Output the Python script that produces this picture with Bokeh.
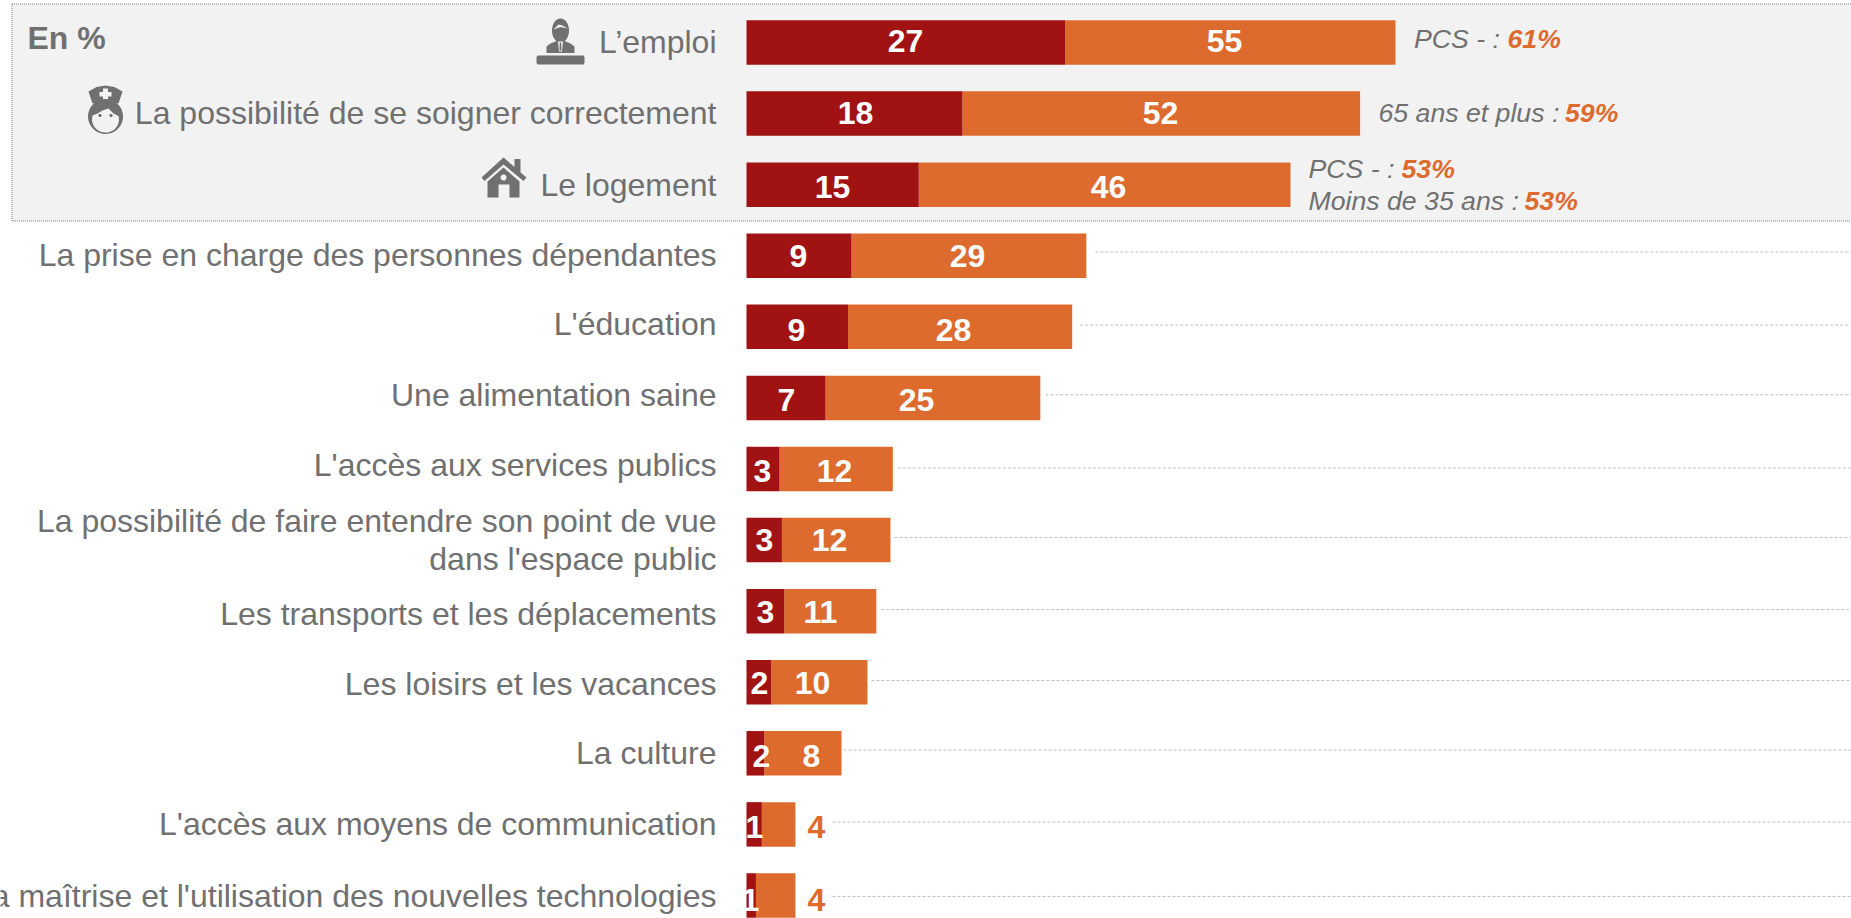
import numpy as np
from bokeh.plotting import figure
from bokeh.models import Range1d
from bokeh.core.properties import value
from bokeh.embed import file_html
from bokeh.resources import INLINE

categories = ["L’emploi", "La possibilité de se soigner correctement", "Le logement",
              "La prise en charge des personnes dépendantes", "L'éducation", "Une alimentation saine",
              "L'accès aux services publics", "La possibilité de faire entendre son point de vue\ndans l'espace public",
              "Les transports et les déplacements", "Les loisirs et les vacances", "La culture",
              "L'accès aux moyens de communication", "La maîtrise et l'utilisation des nouvelles technologies"]
first_priority = [27, 18.3, 14.6, 8.9, 8.6, 6.7, 2.8, 3.0, 3.2, 2.1, 1.5, 1.3, 0.8]
total = [55, 52, 46.1, 28.8, 27.6, 24.9, 12.4, 12.2, 11.0, 10.25, 8.05, 4.15, 4.15]
first_labels = [27, 18, 15, 9, 9, 7, 3, 3, 3, 2, 2, 1, 1]
total_labels = [55, 52, 46, 29, 28, 25, 12, 12, 11, 10, 8, 4, 4]
notes = [(0, "PCS - : ", "61%"), (1, "65 ans et plus : ", "59%"), (2, "PCS - : ", "53%"), (2, "Moins de 35 ans : ", "53%")]

GREY, RED, ORANGE = "#707070", "#A11212", "#DD6B2E"
W, H = 1851, 918
X0, SX, Y0, SY = 746, 11.8, 42, 71.08
X = lambda px: (np.asarray(px, float) - X0) / SX
Y = lambda py: (np.asarray(py, float) - Y0) / SY

p = figure(width=W, height=H, output_backend="svg", toolbar_location=None,
           x_range=Range1d(X(0), X(W)), y_range=Range1d(Y(H), Y(0)),
           min_border=0, min_border_left=0, min_border_right=0, min_border_top=0, min_border_bottom=0)
p.styles = {"position": "absolute", "left": "0px", "top": "0px"}
p.axis.visible = False
p.grid.visible = False
p.outline_line_color = None
p.background_fill_color = "white"
p.border_fill_color = "white"

def txt(xpx, ypx, s, color=GREY, size=32, style="normal", align="right"):
    p.text(x=[float(X(xpx))], y=[float(Y(ypx))], text=[s], text_font=value("Liberation Sans"),
           text_font_size=f"{size}px", text_font_style=style, text_color=color,
           text_align=align, text_baseline="middle")

# highlighted panel
p.quad(left=[float(X(11.5))], right=[float(X(W + 5))], top=[float(Y(3.5))], bottom=[float(Y(220.5))],
       fill_color="#F2F2F2", line_color="#7F7F7F", line_dash="1 1", line_width=1)

# leaders
leader_dy = [-3.8, -1.7, -3.1, -1, -2.6, -1.6, -1.7, -3.2, -2.3, 1]
leader_gap = [9, 8, 5, 5, 4, 5, 4, 2, 37, 37]
for k, (dy, gap) in enumerate(zip(leader_dy, leader_gap)):
    i = k + 3
    yy = i + dy / SY
    p.line([total[i] + gap / SX, X(W)], [yy, yy], line_color="#BFBFBF", line_dash="3 2", line_width=1)

# bars
ys = list(range(len(categories)))
p.hbar(y=ys, left=first_priority, right=total, height=0.626, fill_color=ORANGE, line_color=None)
p.hbar(y=ys, left=0, right=first_priority, height=0.626, fill_color=RED, line_color=None)

# labels
label_dy = [-1, -1, 0, -1, -3, -3, -3.5, 0, 3, 2, 0, 0, 1]
for i, c in enumerate(categories):
    yc = Y0 + SY * i + label_dy[i]
    if "\n" in c:
        a, b = c.split("\n")
        txt(716, 520.6, a)
        txt(716, 558, b)
    else:
        txt(716, yc, c)

red_x = [905, 855, 832, 798, 796, 786, 762, 764, 765, 759, 761, 754, 750]
tot_x = [1224, 1160, 1108, 967, 953, 916, 834, 829, 820, 812, 811, 816, 816]
val_y = [40, 112, 186.5, 255, 329, 399, 470, 539.5, 611.5, 682, 755.5, 826, 899.5]
for i in range(len(categories)):
    txt(red_x[i], val_y[i], str(first_labels[i]), "white", 32, "bold", "center")
    txt(tot_x[i], val_y[i], str(total_labels[i]), "white" if i < 11 else ORANGE, 32, "bold", "center")

txt(27, 37, "En %", GREY, 32, "bold", "left")

note_pos = [(1413.5, 1507, 38), (1378, 1564.5, 112), (1308, 1401, 168), (1308, 1524, 200)]
for (row, lab, pct), (x1, x2, yy) in zip(notes, note_pos):
    txt(x1, yy, lab, GREY, 26.67, "italic", "left")
    txt(x2, yy, pct, ORANGE, 26.67, "bold italic", "left")

# icons
def poly(pts, color=GREY):
    a = np.array(pts, float)
    p.patch(X(a[:, 0]), Y(a[:, 1]), fill_color=color, line_color=None)

def ell(cx, cy, rx, ry, color=GREY):
    t = np.linspace(0, 2 * np.pi, 40)
    poly(np.c_[cx + rx * np.cos(t), cy + ry * np.sin(t)], color)

# person at desk
BG = "#F2F2F2"
ell(560, 30, 8.5, 12)
poly([(546, 52.5), (546, 46), (550, 43), (556, 40.5), (564, 40.5), (570, 43), (574, 46), (574, 52.5)])
poly([(557.5, 41), (562.5, 41), (561.5, 51), (558.5, 51)], BG)
poly([(559.3, 42), (560.7, 42), (561, 50), (559, 50)])
poly([(553, 29), (558, 24), (562, 25), (567, 28), (560, 26.5)], BG)
poly([(537, 55), (583, 55), (584, 57), (584, 62), (583, 64), (537, 64), (536, 62), (536, 57)])
# nurse
poly([(88, 91), (96, 86.5), (105, 85), (114, 86.5), (122, 91), (118, 103), (105, 100.5), (92, 103)])
poly([(102.5, 88), (107.5, 88), (107.5, 91.5), (111, 91.5), (111, 96), (107.5, 96), (107.5, 99), (102.5, 99), (102.5, 96), (99, 96), (99, 91.5), (102.5, 91.5)], BG)
ell(105, 116, 17.5, 17.5)
ell(105, 119, 13.5, 13, BG)
poly([(92, 115), (97, 113), (102, 110), (108, 108), (113, 113), (119, 116), (118, 106), (105, 103), (92, 106)])
ell(99.5, 115, 1.6, 1.6)
ell(110.5, 115, 1.6, 1.6)
# house
poly([(481, 177), (503, 157), (514, 166.5), (514, 158.5), (520, 158.5), (520, 172), (526, 177), (523, 180.5), (503, 164), (484, 180.5)])
poly([(487, 181), (503, 167), (519, 181), (519, 197), (509, 197), (509, 184), (498, 184), (498, 197), (487, 197)])
ell(503, 177, 3, 3, BG)

open("out.html", "w").write(file_html(p, INLINE))
